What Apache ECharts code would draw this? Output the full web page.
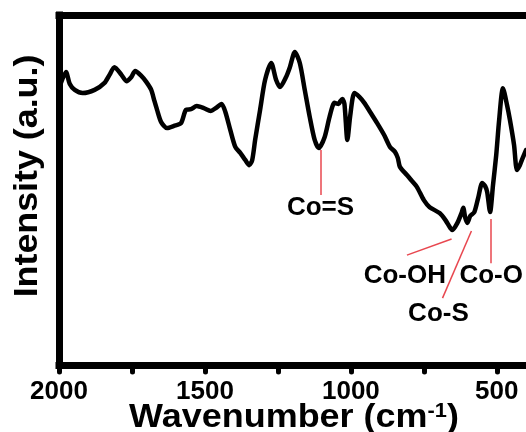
<!DOCTYPE html>
<html>
<head>
<meta charset="utf-8">
<script src="https://cdn.jsdelivr.net/npm/echarts@6/dist/echarts.min.js"></script>
<style>
html,body{margin:0;padding:0;background:#fff;}
#chart{width:526px;height:432px;}
</style>
</head>
<body>
<div id="chart"></div>
<script>
// FTIR spectrum (wavenumber in cm^-1, intensity in a.u.)
var wavenumber = [1997,1976,1963,1946,1919,1878,1844,1827,1810,1786,1769,1752,1739,1718,1701,1684,1674,1664,1650,1630,1606,1582,1565,1548,1528,1504,1480,1463,1443,1430,1413,1396,1379,1362,1348,1338,1328,1311,1294,1273,1256,1243,1222,1209,1192,1175,1158,1141,1124,1110,1090,1073,1056,1042,1036,1029,1022,1012,1002,988,971,954,934,910,886,866,849,839,832,808,791,774,750,730,696,676,659,652,635,621,615,608,601,591,577,564,550,540,533,523,513,502,492,479,465,455,441,431,421,414,400];
var intensity = [79.7,83.7,80.3,78.6,77.7,78.6,80.6,82.9,85.1,82.9,81.1,82.3,84.0,82.6,80.9,78.6,75.7,72.9,69.4,67.7,68.3,69.1,72.9,73.1,74.0,73.4,72.6,73.4,74.6,72.3,67.1,62.3,60.6,58.6,57.1,58.6,64.3,72.9,81.4,86.3,81.4,79.4,82.3,85.1,89.4,86.3,78.6,70.9,64.3,62.0,65.1,70.9,74.9,74.6,75.4,76.0,74.6,64.3,71.4,77.7,76.6,74.9,72.3,69.1,65.7,62.3,60.9,59.1,56.6,54.3,52.6,50.9,47.1,45.1,43.4,41.4,39.1,38.6,40.6,43.4,44.9,42.0,40.6,42.6,43.7,47.7,52.0,51.1,49.4,43.7,51.4,60.0,70.0,79.1,74.3,70.0,62.9,55.7,57.1,58.6,61.4];

// x-axis ticks / labels
var tickValues = [500,750,1000,1250,1500,1750,2000];
var labelValues = [500,1000,1500,2000];

// band assignments: leader lines (from -> to) and label anchors, in data units
var annoNames  = ['Co=S','Co-OH','Co-S','Co-O'];
var annoFromX  = [1104, 808, 587, 520];
var annoFromY  = [61.4, 31.4, 38.3, 41.7];
var annoToX    = [1104, 655, 686, 520];
var annoToY    = [48.6, 36.0, 19.1, 29.1];
var annoLabelX = [1104, 815, 700, 628];
var annoLabelY = [45.0, 25.4, 14.6, 25.4];
var annoAlign  = ['center','center','center','left'];

var chart = echarts.init(document.getElementById('chart'), null, {renderer:'canvas'});

var spectrum = wavenumber.map(function(w,i){ return [w, intensity[i]]; });
var leaderLines = annoNames.map(function(n,i){
  return [{coord:[annoFromX[i], annoFromY[i]]},{coord:[annoToX[i], annoToY[i]]}];
});
var labelData = annoNames.map(function(n,i){
  return {value:[annoLabelX[i], annoLabelY[i]], name:n, label:{align:annoAlign[i]}};
});

var FONT = 'Liberation Sans, Arial, Helvetica, sans-serif';

chart.setOption({
  animation:false,
  backgroundColor:'#ffffff',
  grid:{left:59, right:-4, top:15, bottom:67, containLabel:false},
  xAxis:[{
    type:'value', min:400, max:2000, inverse:true, position:'bottom',
    axisLine:{show:true, onZero:false, lineStyle:{color:'#000', width:7, cap:'square'}},
    axisTick:{show:true, length:7, customValues:tickValues, lineStyle:{color:'#000', width:5, cap:'round'}},
    axisLabel:{show:true, customValues:labelValues, margin:14, color:'#000', fontFamily:FONT, fontWeight:'bold', fontSize:26,
      formatter:function(v){ return String(v); }},
    splitLine:{show:false}
  },{
    type:'value', min:400, max:2000, inverse:true, position:'top',
    axisLine:{show:true, onZero:false, lineStyle:{color:'#000', width:7, cap:'square'}},
    axisTick:{show:false}, axisLabel:{show:false}, splitLine:{show:false}
  }],
  yAxis:{
    type:'value', min:0, max:100, position:'left',
    axisLine:{show:true, onZero:false, lineStyle:{color:'#000', width:7, cap:'square'}},
    axisTick:{show:false}, axisLabel:{show:false}, splitLine:{show:false}
  },
  series:[{
    type:'line', data:spectrum, xAxisIndex:0, yAxisIndex:0,
    showSymbol:false, smooth:0.25,
    lineStyle:{color:'#000', width:4.5, join:'round', cap:'round'},
    markLine:{
      silent:true, symbol:['none','none'], label:{show:false},
      lineStyle:{color:'#e8474f', width:1.5, type:'solid'},
      emphasis:{disabled:true},
      data:leaderLines
    },
    z:3
  },{
    type:'scatter', data:labelData, symbolSize:0, silent:true,
    itemStyle:{color:'#000'},
    label:{show:true, position:'inside', formatter:function(p){return p.name;},
      color:'#000', opacity:1, textBorderWidth:0, textBorderColor:'transparent',
      fontFamily:FONT, fontWeight:'bold', fontSize:26, verticalAlign:'middle'},
    z:4
  }],
  graphic:[{
    type:'text', x:294, y:418, scaleX:1.09,
    style:{
      text:'Wavenumber (cm{sup|-1})',
      font:'bold 33px ' + FONT, fill:'#000', align:'center', verticalAlign:'middle',
      rich:{sup:{font:'bold 20px ' + FONT, fill:'#000', verticalAlign:'top', padding:[0,0,8,0]}}
    }
  },{
    type:'text', x:28, y:176, rotation:Math.PI/2, scaleX:1.085,
    style:{
      text:'Intensity (a.u.)',
      font:'bold 33px ' + FONT, fill:'#000', align:'center', verticalAlign:'middle'
    }
  }]
});
</script>
</body>
</html>
